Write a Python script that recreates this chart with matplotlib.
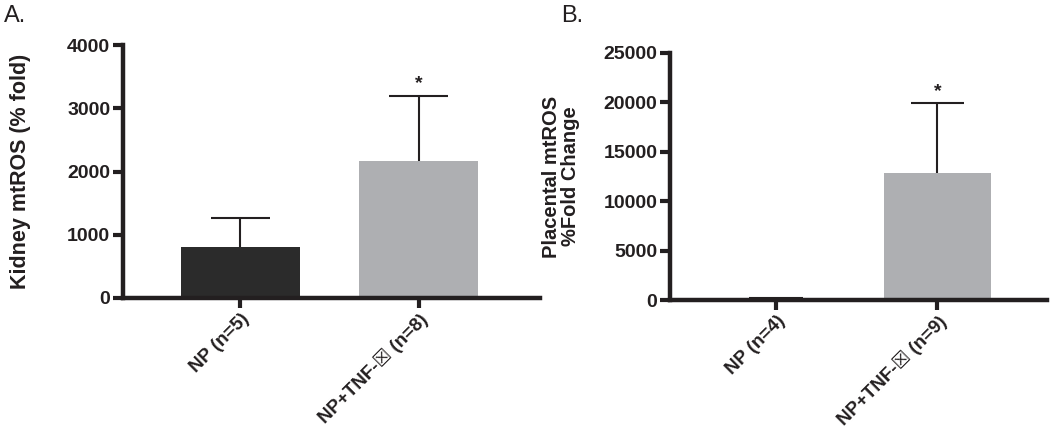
import matplotlib
matplotlib.use("Agg")
import matplotlib.pyplot as plt

plt.rcParams['font.family'] = ['Liberation Sans', 'DejaVu Sans']

# panel A - kidney
groups_a = ["NP (n=5)", "NP+TNF-☒ (n=8)"]
mean_a = [800, 2170]
err_a = [460, 1020]

# panel B - placenta
groups_b = ["NP (n=4)", "NP+TNF-☒ (n=9)"]
mean_b = [60, 12900]
err_b = [200, 7000]

colors = ["#2b2b2b", "#aeafb2"]
dark = "#231f20"
width = 0.665

fig = plt.figure(figsize=(10.5, 4.3), dpi=100)
axA = fig.add_axes([0.117, 0.307, 0.397, 0.588])
axB = fig.add_axes([0.638, 0.302, 0.359, 0.575])


def draw(ax, names, means, errs, ymax, step):
    x = list(range(len(names)))
    ax.bar(x, means, width=width, color=colors, zorder=2)
    # one-sided error bars (upper only)
    tops = [m + e for m, e in zip(means, errs)]
    ax.vlines(x, means, tops, color=dark, lw=1.5, zorder=1)
    ax.hlines(tops, [i - width / 4 for i in x], [i + width / 4 for i in x],
              color=dark, lw=1.5, zorder=1)
    # significance star
    ax.text(1, tops[1] + ymax * 0.015, "*", ha="center", va="bottom",
            fontsize=14, fontweight="bold", color=dark)
    ax.set_xlim(-0.66, 1.68)
    ax.set_ylim(0, ymax)
    ax.set_yticks(range(0, ymax + 1, step))
    ax.set_xticks(x)
    ax.set_xticklabels(names, rotation=45, ha="right", rotation_mode="anchor",
                       fontsize=13.5, fontweight="bold", color=dark)
    for lab in ax.get_yticklabels():
        lab.set_fontweight("bold")
        lab.set_fontsize(14)
        lab.set_color(dark)
    for s in ["top", "right"]:
        ax.spines[s].set_visible(False)
    for s in ["left", "bottom"]:
        ax.spines[s].set_linewidth(3.2)
        ax.spines[s].set_color(dark)
    ax.tick_params(axis="both", width=3, length=7, color=dark, pad=2)


draw(axA, groups_a, mean_a, err_a, 4000, 1000)
draw(axB, groups_b, mean_b, err_b, 25000, 5000)

axA.set_ylabel("Kidney mtROS (% fold)", fontsize=15.5, fontweight="bold",
               color=dark, labelpad=26)
axB.set_ylabel("Placental mtROS\n%Fold Change", fontsize=14.5, fontweight="bold",
               color=dark, labelpad=17, linespacing=1.0)

fig.text(0.004, 0.962, "A.", fontsize=17, color=dark, va="center")
fig.text(0.534, 0.962, "B.", fontsize=17, color=dark, va="center")

fig.savefig("out.png", dpi=100)
